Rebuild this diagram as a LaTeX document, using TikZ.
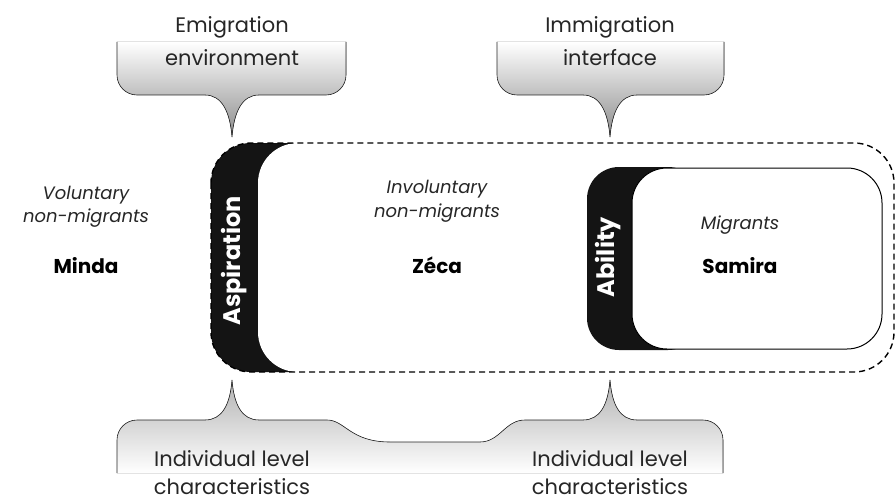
\documentclass[tikz,border=0pt]{standalone}
\usepackage{fontspec}
\setmainfont{Poppins}
\definecolor{inkblack}{HTML}{141414}
\tikzset{
  callout/.style  = {top color=white, bottom color=black!45},
  bracefill/.style= {top color=black!30, bottom color=white},
  edge/.style     = {draw=black!85, line width=0.6pt},
  biglabel/.style = {font=\fontsize{21}{24}\selectfont, text=black!85, anchor=base},
  kind/.style     = {font=\fontsize{18}{20}\selectfont\itshape, text=black!85, anchor=base},
  person/.style   = {font=\fontsize{20}{22}\selectfont\bfseries, anchor=base},
  stage/.style    = {font=\fontsize{24}{26}\selectfont\bfseries, text=white, rotate=90}
}
\begin{document}
\begin{tikzpicture}[x=1pt, y=-1pt]
    \useasboundingbox (0,0) rectangle (896,500);
    % callouts at the top
    \fill[callout] (117,42) [rounded corners=20] -- (117,95) [sharp corners] -- (205,95)
        .. controls (222,95) and (230,112) .. (232,137)
        .. controls (234,112) and (242,95) .. (259,95)
        [rounded corners=20] -- (346,95) [sharp corners] -- (346,42) -- cycle;
    \draw[edge] (117,42) [rounded corners=20] -- (117,95) [sharp corners] -- (205,95)
        .. controls (222,95) and (230,112) .. (232,137)
        .. controls (234,112) and (242,95) .. (259,95)
        [rounded corners=20] -- (346,95) [sharp corners] -- (346,42);
    \fill[callout] (497,42) [rounded corners=20] -- (497,95) [sharp corners] -- (583,95)
        .. controls (600,95) and (608,112) .. (610,137)
        .. controls (612,112) and (620,95) .. (637,95)
        [rounded corners=20] -- (724,95) [sharp corners] -- (724,42) -- cycle;
    \draw[edge] (497,42) [rounded corners=20] -- (497,95) [sharp corners] -- (583,95)
        .. controls (600,95) and (608,112) .. (610,137)
        .. controls (612,112) and (620,95) .. (637,95)
        [rounded corners=20] -- (724,95) [sharp corners] -- (724,42);
    \node[biglabel] (emi1) at (232,33) {Emigration};
    \node[biglabel] (emi2) at (232,66) {environment};
    \node[biglabel] (imm1) at (610,33) {Immigration};
    \node[biglabel] (imm2) at (610,66) {interface};
    % the braces at the bottom
    \fill[bracefill] (117,473) [rounded corners=20] -- (117,420) [sharp corners] -- (205,420)
        .. controls (222,420) and (230,405) .. (232,380)
        .. controls (234,405) and (242,420) .. (259,420)
        -- (327,420) .. controls (345,420) and (350,442) .. (390,442)
        -- (480,442) .. controls (500,442) and (505,420) .. (525,420)
        -- (583,420) .. controls (600,420) and (608,405) .. (610,380)
        .. controls (612,405) and (620,420) .. (637,420)
        [rounded corners=20] -- (723,420) [sharp corners] -- (723,473) -- cycle;
    \draw[edge] (117,473) [rounded corners=20] -- (117,420) [sharp corners] -- (205,420)
        .. controls (222,420) and (230,405) .. (232,380)
        .. controls (234,405) and (242,420) .. (259,420)
        -- (327,420) .. controls (345,420) and (350,442) .. (390,442)
        -- (480,442) .. controls (500,442) and (505,420) .. (525,420)
        -- (583,420) .. controls (600,420) and (608,405) .. (610,380)
        .. controls (612,405) and (620,420) .. (637,420)
        [rounded corners=20] -- (723,420) [sharp corners] -- (723,473);
    \node[biglabel] (ind1) at (232,466) {Individual level};
    \node[biglabel] (ind2) at (232,494) {characteristics};
    \node[biglabel] (ind3) at (610,466) {Individual level};
    \node[biglabel] (ind4) at (610,494) {characteristics};
    % aspiration and ability
    \fill[inkblack, rounded corners=40] (211,143) rectangle (330,372);
    \fill[white, rounded corners=40] (258,143) rectangle (894,372);
    \draw[dash pattern=on 6pt off 4pt, line width=1.4pt, rounded corners=40]
        (211,143) rectangle (894,372);
    \fill[inkblack, rounded corners=32] (587,167) rectangle (700,350);
    \draw[fill=white, line width=1pt, rounded corners=35] (632,168) rectangle (882,349);
    \node[stage] (asp) at (234,261) {Aspiration};
    \node[stage] (abi) at (608,257) {Ability};
    % the three people
    \node[kind] (vol1) at (86,199) {Voluntary};
    \node[kind] (vol2) at (86,222) {non-migrants};
    \node[person] (minda) at (86,273) {Minda};
    \node[kind] (inv1) at (437,193) {Involuntary};
    \node[kind] (inv2) at (437,217) {non-migrants};
    \node[person] (zeca) at (437,273) {Zéca};
    \node[kind] (mig) at (740,229) {Migrants};
    \node[person] (samira) at (740,273) {Samira};
\end{tikzpicture}
\end{document}
